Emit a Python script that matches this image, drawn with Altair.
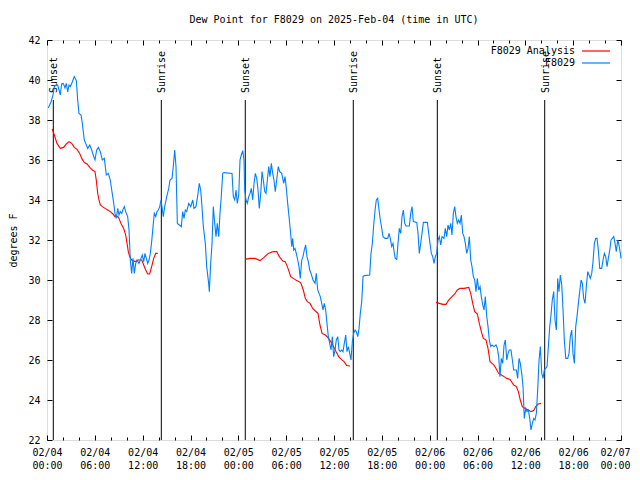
import json
import altair as alt
import pandas as pd

MONO = "DejaVu Sans Mono"

# ---- observations (F8029), hours since 02/04 00:00 UTC, degrees F ----
obs_hours = [0.16, 0.50, 0.75, 0.92, 1.13, 1.34, 1.51, 1.67, 1.84, 2.04, 2.26, 2.42, 2.60, 2.76, 2.92,
             3.17, 3.42, 3.68, 3.85, 4.01, 4.27, 4.43, 4.68, 4.85, 5.11, 5.36, 5.61, 5.86, 6.02, 6.23,
             6.44, 6.69, 6.94, 7.19, 7.44, 7.69, 7.94, 8.12, 8.37, 8.53, 8.69, 8.87, 9.03, 9.19, 9.37,
             9.53, 9.70, 9.87, 10.12, 10.29, 10.45, 10.62, 10.79, 10.95, 11.13, 11.29, 11.54, 11.79,
             11.95, 12.13, 12.29, 12.46, 12.63, 12.80, 12.96, 13.13, 13.30, 13.46, 13.64, 13.80, 13.96,
             14.14, 14.30, 14.39, 14.59, 14.76, 15.02, 15.27, 15.43, 15.68, 15.84, 16.02, 16.18, 16.35,
             16.60, 16.85, 17.02, 17.19, 17.35, 17.52, 17.78, 18.03, 18.28, 18.44, 18.69, 18.94, 19.10,
             19.28, 19.44, 19.61, 19.86, 20.03, 20.28, 20.36, 20.53, 20.70, 20.86, 21.04, 21.20, 21.36,
             21.54, 21.70, 21.86, 22.04, 22.20, 23.21, 23.37, 23.55, 23.71, 23.87, 24.05, 24.21, 24.37,
             24.55, 24.71, 24.80, 24.96, 25.13, 25.30, 25.47, 25.63, 25.80, 25.97, 26.13, 26.31, 26.47,
             26.63, 26.81, 26.97, 27.13, 27.31, 27.47, 27.64, 27.81, 27.97, 28.14, 28.31, 28.47, 28.64,
             28.81, 29.01, 29.19, 29.44, 29.69, 29.86, 30.02, 30.19, 30.36, 30.52, 30.70, 30.82, 30.95,
             31.11, 31.27, 31.45, 31.61, 31.77, 31.95, 32.11, 32.28, 32.45, 32.61, 32.78, 32.95, 33.12,
             33.37, 33.62, 33.78, 33.96, 34.12, 34.28, 34.46, 34.62, 34.78, 34.96, 35.12, 35.29, 35.46,
             35.63, 35.79, 35.96, 36.13, 36.29, 36.47, 36.63, 36.79, 36.97, 37.13, 37.29, 37.47, 37.63,
             37.80, 37.97, 38.13, 38.30, 38.47, 38.64, 38.80, 38.98, 39.14, 39.30, 39.48, 39.64, 39.80,
             40.48, 40.64, 40.81, 40.98, 41.15, 41.31, 41.48, 41.65, 41.81, 41.99, 42.15, 42.40, 42.74,
             42.90, 43.06, 43.24, 43.40, 43.57, 43.69, 43.87, 44.03, 44.19, 44.37, 44.53, 44.70, 44.87,
             45.03, 45.45, 45.62, 45.79, 45.95, 46.38, 46.54, 46.70, 46.88, 47.04, 47.21, 47.71, 47.88,
             48.04, 48.21, 48.38, 48.55, 48.71, 48.88, 49.05, 49.21, 49.39, 49.55, 49.80, 49.96, 50.14,
             50.30, 50.47, 50.64, 50.80, 50.97, 51.14, 51.30, 51.47, 51.64, 51.81, 51.97, 52.15, 52.31,
             52.47, 52.65, 52.81, 52.98, 53.15, 53.31, 53.48, 53.65, 53.81, 53.98, 54.15, 54.32, 54.48,
             54.66, 54.82, 54.98, 55.16, 55.32, 55.48, 55.66, 55.82, 56.07, 56.32, 56.49, 56.66, 56.82,
             56.99, 57.16, 57.33, 57.49, 57.67, 57.83, 57.99, 58.20, 58.37, 58.54, 58.87, 59.04, 59.21,
             59.37, 59.55, 59.71, 59.87, 60.05, 60.21, 60.38, 60.55, 60.71, 60.88, 61.05, 61.21, 61.38,
             61.55, 61.72, 61.88, 62.06, 62.22, 62.38, 62.56, 62.72, 62.89, 63.06, 63.22, 63.38, 63.56,
             63.72, 63.89, 64.06, 64.22, 64.39, 64.57, 64.73, 64.89, 65.07, 65.32, 65.48, 65.64, 65.82,
             65.98, 66.15, 66.32, 66.48, 66.65, 66.82, 66.99, 67.15, 67.32, 67.49, 67.65, 67.83, 67.99,
             68.15, 68.33, 68.49, 68.66, 68.83, 68.99, 69.16, 69.33, 69.58, 69.75, 69.91, 70.08, 70.25,
             70.41, 70.59, 70.75, 70.91, 71.09, 71.25, 71.41, 71.59, 71.75, 71.92, 72.0]
obs_values = [38.6, 38.9, 39.25, 39.67, 39.75, 39.75, 39.5, 39.25, 39.8, 39.83, 39.6, 39.83, 39.4, 39.75, 39.67,
              39.9, 40.17, 39.97, 39.0, 38.33, 38.25, 37.83, 37.0, 36.83, 36.58, 36.75, 36.5, 36.17, 36.0, 36.5,
              36.63, 36.42, 36.0, 36.08, 35.25, 35.33, 35.0, 34.5, 33.83, 33.33, 33.08, 33.58, 33.25, 33.42, 33.33,
              33.53, 33.67, 33.42, 33.17, 32.5, 31.0, 30.33, 31.08, 30.33, 30.83, 31.0, 30.83, 31.08,
              31.25, 30.92, 31.33, 31.08, 30.83, 31.0, 31.33, 31.92, 32.67, 33.33, 33.17, 33.42, 33.5,
              33.67, 34.0, 33.75, 33.17, 33.67, 34.17, 34.58, 35.0, 35.08, 35.67, 36.5, 35.67, 32.83,
              32.75, 32.67, 33.42, 33.08, 33.5, 33.42, 33.83, 33.67, 34.0, 33.58, 33.67, 34.33, 34.83,
              34.5, 33.67, 32.67, 31.83, 30.67, 29.83, 29.42, 30.83, 31.83, 33.67, 32.83, 32.17, 32.83,
              32.17, 33.33, 34.17, 35.33, 35.37, 35.33, 34.17, 34.0, 34.5, 33.83, 34.25, 36.0, 36.25,
              36.47, 36.0, 34.5, 34.0, 33.83, 34.17, 34.33, 34.58, 34.0, 34.83, 35.33, 35.08, 34.5,
              33.58, 34.33, 35.42, 35.0, 34.42, 34.33, 35.0, 35.67, 35.17, 35.83, 35.33, 35.0, 34.42,
              35.0, 35.67, 35.42, 35.33, 34.83, 35.17, 34.58, 33.83, 33.17, 32.5, 31.67, 32.08, 31.5,
              31.58, 31.33, 31.0, 30.67, 30.08, 31.0, 31.17, 31.5, 31.75, 31.17, 30.92, 30.5, 30.33,
              30.0, 29.83, 30.33, 29.5, 29.33, 29.17, 28.83, 28.5, 28.83, 28.5, 27.83, 27.17, 26.83,
              26.5, 27.17, 26.17, 26.5, 27.0, 27.17, 26.5, 26.42, 26.5, 26.42, 26.83, 27.25, 26.42,
              26.67, 26.33, 26.0, 26.92, 27.33, 27.5, 27.42, 27.17, 27.58, 28.33, 28.92, 30.17, 30.22,
              30.25, 31.33, 31.83, 32.75, 33.5, 34.0, 34.08, 33.5, 33.0, 32.58, 32.17, 32.08, 32.08,
              32.33, 32.08, 31.67, 31.83, 31.33, 31.08, 31.03, 31.83, 32.58, 32.33, 33.17, 33.5, 32.83,
              32.7, 32.7, 33.33, 33.67, 32.92, 32.88, 32.33, 31.33, 31.83, 32.33, 32.88, 32.88, 32.33,
              31.83, 31.33, 31.17, 30.83, 31.17, 31.33, 32.0, 32.17, 31.75, 32.17, 32.08, 32.58, 32.17,
              32.75, 32.5, 32.83, 32.25, 33.33, 33.67, 33.17, 32.83, 33.0, 32.83, 33.25, 32.33, 32.17,
              31.83, 31.33, 31.58, 32.17, 31.0, 30.67, 30.17, 30.0, 29.42, 30.08, 29.5, 29.67, 29.17,
              28.75, 28.5, 29.17, 28.17, 27.67, 27.0, 26.67, 26.75, 26.67, 26.75, 26.58, 26.17, 25.17,
              26.08, 25.83, 26.75, 27.0, 26.0, 26.33, 26.5, 26.5, 26.0, 25.5, 25.5, 25.08, 26.08,
              25.83, 25.33, 24.67, 23.08, 23.58, 23.42, 23.5, 23.08, 22.5, 22.83, 23.08, 23.0, 23.33,
              24.5, 26.0, 26.67, 25.33, 25.08, 25.5, 25.58, 25.67, 26.67, 27.67, 28.25, 29.0, 29.42,
              28.0, 27.5, 30.08, 29.42, 30.25, 29.75, 28.5, 27.0, 26.08, 26.08, 26.33, 27.17, 27.5,
              26.33, 25.83, 27.67, 28.17, 28.83, 29.42, 30.0, 29.83, 29.08, 28.83, 29.67, 30.42, 30.25,
              30.08, 30.33, 30.92, 31.83, 32.08, 32.08, 31.5, 30.58, 30.58, 31.0, 31.33, 31.17, 30.67,
              31.08, 31.5, 32.0, 32.08, 32.17, 31.83, 31.42, 32.0, 31.75, 31.33, 31.08]

# ---- analysis (F8029 Analysis), three night-time segments ----
ana1_hours = [0.66, 0.92, 1.25, 1.67, 2.09, 2.42, 2.76, 3.10, 3.42, 3.76, 4.10, 4.35, 4.68, 5.02, 5.36,
              5.68, 6.02, 6.18, 6.36, 6.52, 6.69, 6.94, 7.28, 7.61, 7.94, 8.28, 8.53, 8.87, 9.03, 9.28,
              9.62, 9.87, 10.04, 10.20, 10.37, 10.62, 11.04, 11.45, 11.88, 12.13, 12.38, 12.63, 12.88,
              13.13, 13.38, 13.64, 13.89]
ana1_values = [37.55, 37.25, 36.83, 36.58, 36.63, 36.8, 36.92, 36.83, 36.63, 36.53, 36.33, 36.08, 35.87, 35.8, 35.63,
               35.5, 35.42, 35.0, 34.33, 34.0, 33.75, 33.67, 33.58, 33.5, 33.42, 33.3, 33.17, 33.17, 33.08, 32.83,
               32.58, 32.25, 31.83, 31.42, 31.17, 31.0, 30.92, 31.0, 31.0, 30.75, 30.5, 30.3, 30.3,
               30.67, 31.08, 31.33, 31.33]
ana2_hours = [24.84, 25.47, 26.09, 26.72, 27.22, 27.76, 28.39, 28.81, 29.14, 29.57, 29.89, 30.23, 30.57, 30.90,
              31.32, 31.82, 32.15, 32.40, 32.65, 32.99, 33.33, 33.66, 33.99, 34.24, 34.50, 34.91, 35.25, 35.59,
              35.91, 36.25, 36.59, 36.92, 37.26, 37.59, 38.01]
ana2_values = [31.03, 31.08, 31.08, 30.97, 31.13, 31.33, 31.42, 31.42, 31.17, 30.95, 30.92, 30.58, 30.17, 30.08,
               29.97, 29.87, 29.5, 29.08, 28.92, 28.83, 28.58, 28.45, 28.33, 27.75, 27.33, 27.25, 27.12, 26.92,
               26.7, 26.42, 26.17, 26.03, 25.92, 25.72, 25.7]
ana3_hours = [48.80, 49.21, 49.64, 50.05, 50.39, 50.80, 51.14, 51.47, 51.81, 52.31, 52.90, 53.15, 53.40, 53.65,
              53.98, 54.23, 54.48, 54.73, 55.07, 55.32, 55.57, 55.82, 56.07, 56.32, 56.66, 56.99, 57.33, 57.67,
              58.08, 58.54, 58.87, 59.12, 59.37, 59.62, 59.96, 60.38, 60.71, 61.05, 61.30, 61.63, 61.97]
ana3_values = [28.88, 28.83, 28.78, 28.78, 29.0, 29.17, 29.3, 29.5, 29.58, 29.58, 29.63, 29.33, 28.83, 28.42,
               28.3, 27.83, 27.42, 27.08, 27.0, 26.58, 25.92, 25.83, 25.75, 25.58, 25.33, 25.25, 25.17, 25.08,
               25.03, 24.75, 24.67, 24.42, 24.0, 23.67, 23.58, 23.5, 23.42, 23.47, 23.67, 23.8, 23.83]

# ---- sunrise / sunset markers ----
sun_hours = [0.79, 14.34, 24.87, 38.42, 48.96, 62.43]
sun_labels = ["Sunset", "Sunrise", "Sunset", "Sunrise", "Sunset", "Sunrise"]
marker_bottom = 22
marker_top = 39
label_at = 39.35

# ---- axes ----
major_ticks = [0, 6, 12, 18, 24, 30, 36, 42, 48, 54, 60, 66, 72]
minor_ticks = [2, 4, 8, 10, 14, 16, 20, 22, 26, 28, 32, 34, 38, 40, 44, 46, 50, 52, 56, 58, 62, 64, 68, 70]
tick_dates = ["02/04", "02/04", "02/04", "02/04", "02/05", "02/05", "02/05", "02/05",
              "02/06", "02/06", "02/06", "02/06", "02/07"]
tick_times = ["00:00", "06:00", "12:00", "18:00", "00:00", "06:00", "12:00", "18:00",
              "00:00", "06:00", "12:00", "18:00", "00:00"]
y_ticks = [22, 24, 26, 28, 30, 32, 34, 36, 38, 40, 42]

series_names = ["F8029 Analysis", "F8029"]
series_colors = ["#ff0000", "#0080ff"]

obs_df = pd.DataFrame({"h": obs_hours, "v": obs_values, "series": "F8029", "seg": 0})
ana_df = pd.concat([
    pd.DataFrame({"h": ana1_hours, "v": ana1_values, "seg": 1}),
    pd.DataFrame({"h": ana2_hours, "v": ana2_values, "seg": 2}),
    pd.DataFrame({"h": ana3_hours, "v": ana3_values, "seg": 3}),
])
ana_df["series"] = "F8029 Analysis"
sun_df = pd.DataFrame({"h": sun_hours, "label": sun_labels})

xscale = alt.Scale(domain=[0, 72], nice=False, zero=False)
yscale = alt.Scale(domain=[22, 42], nice=False, zero=False)

label_expr = (f"[{json.dumps(tick_dates)}[round(datum.value/6)], "
              f"{json.dumps(tick_times)}[round(datum.value/6)]]")

common = dict(domain=False, grid=False, title=None, tickColor="black", tickWidth=1,
              labelFont=MONO, labelFontSize=10, labelColor="black")

x_bottom_major = alt.Axis(orient="bottom", values=major_ticks, tickSize=5, offset=-5,
                          labelExpr=label_expr, labelPadding=7, labelLineHeight=13,
                          labelOffset={"condition": {"test": "datum.value >= 72", "value": -6}, "value": 0},
                          labelFlush=False, labelOverlap=False, **common)
x_top_major = alt.Axis(orient="top", values=major_ticks, tickSize=5, offset=-5, labels=False, **common)
x_bottom_minor = alt.Axis(orient="bottom", values=minor_ticks, tickSize=3, offset=-3, labels=False, **common)
x_top_minor = alt.Axis(orient="top", values=minor_ticks, tickSize=3, offset=-3, labels=False, **common)

y_left = alt.Axis(orient="left", values=y_ticks, tickSize=5, offset=-5, labelPadding=7,
                  labelFlush=False, labelOverlap=False,
                  domain=False, grid=False, tickColor="black", labelFont=MONO, labelFontSize=10,
                  labelColor="black", title="degrees F", titleFont=MONO, titleFontSize=10,
                  titleFontWeight="normal", titleColor="black", titlePadding=9)
y_right = alt.Axis(orient="right", values=y_ticks, tickSize=5, offset=-5, labels=False, **common)

# legend key: a 28px horizontal stroke (custom path scaled by sqrt(size)/2), label to its left
legend = alt.Legend(title=None, orient="none", legendX=535, legendY=6, direction="vertical",
                    symbolType="M-4,0H4", symbolSize=49, symbolStrokeWidth=1.2,
                    symbolOffset=9, symbolFillColor="transparent",
                    labelAlign="right", labelOffset={"expr": "-26"}, labelFont=MONO, labelFontSize=10,
                    labelColor="black", rowPadding=2, padding=0)
color = alt.Color("series:N", scale=alt.Scale(domain=series_names, range=series_colors), legend=legend)

rules = alt.Chart(sun_df).mark_rule(color="black", strokeWidth=1).encode(
    x=alt.X("h:Q", scale=xscale, axis=x_bottom_minor),
    y=alt.YDatum(marker_bottom, scale=yscale, axis=None),
    y2=alt.Y2Datum(marker_top),
)
texts = alt.Chart(sun_df).mark_text(angle=270, align="left", baseline="middle", font=MONO,
                                    fontSize=10, color="black", dy=1).encode(
    x=alt.X("h:Q", scale=xscale, axis=x_top_minor),
    y=alt.YDatum(label_at, scale=yscale, axis=None),
    text="label:N",
)
red = alt.Chart(ana_df).mark_line(strokeWidth=1.1).encode(
    x=alt.X("h:Q", scale=xscale, axis=x_top_major),
    y=alt.Y("v:Q", scale=yscale, axis=y_right),
    color=color,
    detail="seg:N",
)
blue = alt.Chart(obs_df).mark_line(strokeWidth=1.1).encode(
    x=alt.X("h:Q", scale=xscale, axis=x_bottom_major),
    y=alt.Y("v:Q", scale=yscale, axis=y_left),
    color=color,
)

chart = alt.layer(rules, texts, red, blue).resolve_axis(
    x="independent", y="independent"
).properties(
    width=574,
    height=400,
    title=alt.TitleParams("Dew Point for F8029 on 2025-Feb-04 (time in UTC)", font=MONO, fontSize=10,
                          fontWeight="normal", color="black", anchor="middle", frame="group", offset=10),
    autosize=alt.AutoSizeParams(type="none"),
    padding={"left": 39, "top": 32, "right": 11, "bottom": 32},
).configure_view(stroke="black", strokeWidth=1).configure(background="white")

chart.save("out.html", embed_options={"renderer": "svg", "actions": False})
